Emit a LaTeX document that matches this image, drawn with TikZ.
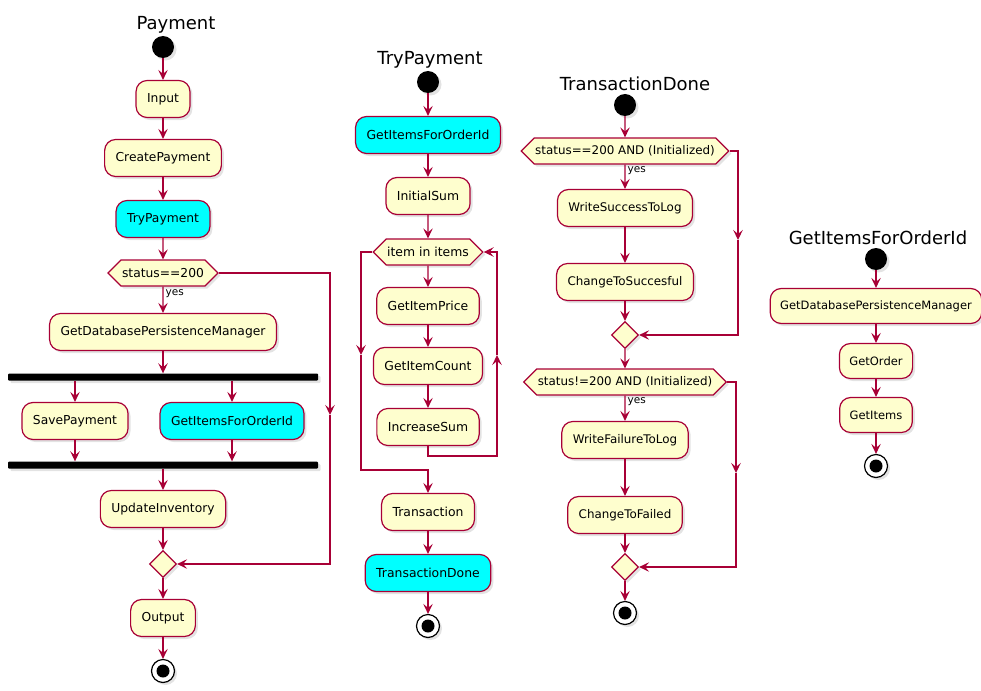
\documentclass[tikz,border=0pt]{standalone}
\usepackage{fontspec}
\setmainfont{DejaVu Sans}
\usetikzlibrary{arrows.meta,shapes.geometric,shapes.symbols,shadows}
\definecolor{umlred}{RGB}{168,0,54}
\definecolor{umlyellow}{RGB}{254,254,206}
\definecolor{umlcyan}{RGB}{0,255,255}
\tikzstyle{shade}=[drop shadow={shadow xshift=2.5pt,shadow yshift=-2.5pt,opacity=0.22}]
\tikzstyle{activity}=[rectangle,rounded corners=11pt,draw=umlred,fill=umlyellow,line width=1.2pt,minimum height=37pt,inner xsep=11pt,inner ysep=2pt,shade]
\tikzstyle{call}=[activity,fill=umlcyan]
\tikzstyle{smallact}=[activity,minimum height=35pt,inner xsep=10pt]
\tikzstyle{choice}=[signal,signal to=west and east,draw=umlred,fill=umlyellow,line width=1.2pt,minimum height=26pt,inner xsep=1pt,inner ysep=1pt,shade]
\tikzstyle{merge}=[diamond,draw=umlred,fill=umlyellow,line width=1.2pt,minimum size=27pt,inner sep=0pt,shade]
\tikzstyle{start}=[circle,fill=black,minimum size=22pt,inner sep=0pt,shade]
\tikzstyle{stop}=[circle,draw=black,line width=1.2pt,fill=white,minimum size=23pt,inner sep=0pt,shade,
  path picture={\fill[black] (path picture bounding box.center) circle (6.5pt);}]
\tikzstyle{bar}=[rectangle,fill=black,minimum width=310pt,minimum height=7pt,inner sep=0pt,rounded corners=1pt,shade]
\tikzstyle{flow}=[draw=umlred,line width=1.2pt,-{Stealth[length=10pt,width=9.5pt,inset=4pt]}]
\tikzstyle{title}=[font=\fontsize{18}{21}\selectfont]
\tikzstyle{guard}=[font=\fontsize{10.5}{12}\selectfont,inner sep=2pt]

\begin{document}
\begin{tikzpicture}[x=1pt,y=-1pt]
\useasboundingbox (0,0) rectangle (981,690);

% Payment
\node[title] (ptitle) at (176,25) {Payment};
\begin{scope}[font=\fontsize{12.3}{14}\selectfont]
\foreach \pos/\name/\kind/\text in {{(163,47)/p0/start/{}}, {(163,99)/pin/activity/Input},
    {(163,158)/pcreate/activity/CreatePayment}, {(163,219)/ptry/call/TryPayment},
    {(163,273)/pstatus/choice/status==200}, {(163,332)/pdb/activity/GetDatabasePersistenceManager},
    {(163,377)/pfork/bar/{}}, {(75,421)/psave/activity/SavePayment}, {(232,421)/pitems/call/GetItemsForOrderId},
    {(163,465)/pjoin/bar/{}}, {(163,509)/pupd/activity/UpdateInventory}, {(163,564)/pmerge/merge/{}},
    {(163,618)/pout/activity/Output}, {(163,671)/pend/stop/{}}}
  \node[\kind] (\name) at \pos {\text};
\coordinate (pbr) at (330,415);

\foreach \source/\dest in {p0/pin, pin/pcreate, pcreate/ptry, ptry/pstatus, pdb/pfork,
    pjoin/pupd, pupd/pmerge, pmerge/pout, pout/pend}
  \path[flow] (\source) -- (\dest);
\path[flow] (pstatus) -- node[guard,right,pos=0.25] {yes} (pdb);
\foreach \name in {psave, pitems} {
  \path[flow] (pfork.south -| \name) -- (\name);
  \path[flow] (\name) -- (\name |- pjoin.north);
}
\path[flow] (pstatus.east) -| (pbr);
\path[flow] (pbr) |- (pmerge.east);
\end{scope}

% TryPayment
\node[title] (ttitle) at (430,60) {TryPayment};
\begin{scope}[font=\fontsize{12.4}{14}\selectfont]
\foreach \pos/\name/\kind/\text in {{(428,82)/t0/start/{}}, {(428,135)/titems/call/GetItemsForOrderId},
    {(428,196)/tinit/activity/InitialSum}, {(428,252)/tloop/choice/item in items},
    {(428,306)/tprice/activity/GetItemPrice}, {(428,366)/tcount/activity/GetItemCount},
    {(428,427)/tinc/activity/IncreaseSum}, {(428,512)/ttrans/activity/Transaction},
    {(428,573)/tdone/call/TransactionDone}, {(428,626)/tend/stop/{}}}
  \node[\kind] (\name) at \pos {\text};
\coordinate (tl1) at (361,355);
\coordinate (tl2) at (428,470);
\coordinate (tr0) at (428,456);
\coordinate (tr1) at (497,355);

\foreach \source/\dest in {t0/titems, titems/tinit, tinit/tloop, tloop/tprice, tprice/tcount,
    tcount/tinc, ttrans/tdone, tdone/tend}
  \path[flow] (\source) -- (\dest);
\path[flow] (tloop.west) -| (tl1);
\path[flow] (tl1) |- (tl2) -- (ttrans);
\path[flow] (tinc.south) -- (tr0) -| (tr1);
\path[flow] (tr1) |- (tloop.east);
\end{scope}

% TransactionDone
\node[title] (dtitle) at (635,84) {TransactionDone};
\begin{scope}[font=\fontsize{11.9}{14}\selectfont]
\foreach \pos/\name/\kind/\text in {{(625,105)/d0/start/{}}, {(625,151)/dok/choice/status==200 AND (Initialized)},
    {(625,208)/dsucc/activity/WriteSuccessToLog}, {(625,282)/dchs/activity/ChangeToSuccesful},
    {(625,335)/dm1/merge/{}}, {(625,382)/dfail/choice/status!=200 AND (Initialized)},
    {(625,440)/dwf/activity/WriteFailureToLog}, {(625,515)/dchf/activity/ChangeToFailed},
    {(625,567)/dm2/merge/{}}, {(625,613)/dend/stop/{}}}
  \node[\kind] (\name) at \pos {\text};
\coordinate (db1) at (738,240);
\coordinate (db2) at (736,473);

\foreach \source/\dest in {d0/dok, dsucc/dchs, dchs/dm1, dm1/dfail, dwf/dchf, dchf/dm2, dm2/dend}
  \path[flow] (\source) -- (\dest);
\path[flow] (dok) -- node[guard,right,pos=0.25] {yes} (dsucc);
\path[flow] (dfail) -- node[guard,right,pos=0.25] {yes} (dwf);
\path[flow] (dok.east) -| (db1);
\path[flow] (db1) |- (dm1.east);
\path[flow] (dfail.east) -| (db2);
\path[flow] (db2) |- (dm2.east);
\end{scope}

% GetItemsForOrderId
\node[title] (gtitle) at (878,238) {GetItemsForOrderId};
\begin{scope}[font=\fontsize{11.5}{13}\selectfont]
\foreach \pos/\name/\kind/\text in {{(876,259)/g0/start/{}}, {(876,306)/gdb/smallact/GetDatabasePersistenceManager},
    {(876,361)/gord/smallact/GetOrder}, {(876,415)/gitems/smallact/GetItems}, {(876,466)/gend/stop/{}}}
  \node[\kind] (\name) at \pos {\text};

\foreach \source/\dest in {g0/gdb, gdb/gord, gord/gitems, gitems/gend}
  \path[flow] (\source) -- (\dest);
\end{scope}

\end{tikzpicture}
\end{document}
